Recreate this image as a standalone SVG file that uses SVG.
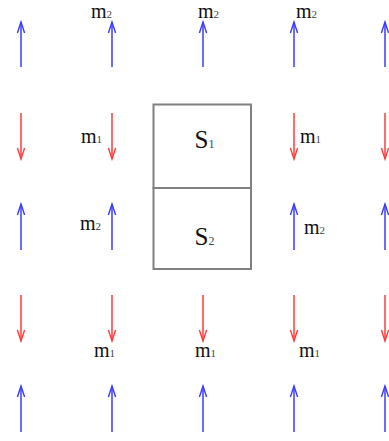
<svg xmlns="http://www.w3.org/2000/svg" width="389" height="441" viewBox="0 0 389 441">
<style>
.up{stroke:#3b3bff;stroke-width:1.5;fill:none}
.dn{stroke:#ff3b3b;stroke-width:1.5;fill:none}
.cell{fill:#fff;stroke:#808080;stroke-width:2}
.m{font-family:"Liberation Serif","Times New Roman",serif;font-size:20px;fill:#111}
.sub{font-size:11px;fill:#444}
.s{font-family:"Liberation Serif","Times New Roman",serif;font-size:25px;fill:#111}
.ssub{font-size:12px;fill:#444}
</style>
<defs>
<marker id="hb" viewBox="-12 -5 14 10" refX="0" refY="0" markerWidth="14" markerHeight="10" markerUnits="userSpaceOnUse" orient="auto"><path d="M-11,-3.6 L0,0 L-11,3.6" fill="none" stroke="#3b3bff" stroke-width="1.4"/></marker>
<marker id="hr" viewBox="-12 -5 14 10" refX="0" refY="0" markerWidth="14" markerHeight="10" markerUnits="userSpaceOnUse" orient="auto"><path d="M-11,-3.6 L0,0 L-11,3.6" fill="none" stroke="#ff3b3b" stroke-width="1.4"/></marker>
</defs>
<rect width="389" height="441" fill="#fff"/>
<g id="arrows">
<g id="row1">
<line class="up" x1="21" y1="67" x2="21" y2="22" marker-end="url(#hb)"/>
<line class="up" x1="112" y1="67" x2="112" y2="22" marker-end="url(#hb)"/>
<line class="up" x1="203" y1="67" x2="203" y2="22" marker-end="url(#hb)"/>
<line class="up" x1="294" y1="67" x2="294" y2="22" marker-end="url(#hb)"/>
<line class="up" x1="385" y1="67" x2="385" y2="22" marker-end="url(#hb)"/>
</g>
<g id="row2">
<line class="dn" x1="21" y1="113" x2="21" y2="159" marker-end="url(#hr)"/>
<line class="dn" x1="112" y1="113" x2="112" y2="159" marker-end="url(#hr)"/>
<line class="dn" x1="294" y1="113" x2="294" y2="159" marker-end="url(#hr)"/>
<line class="dn" x1="385" y1="113" x2="385" y2="159" marker-end="url(#hr)"/>
</g>
<g id="row3">
<line class="up" x1="21" y1="250" x2="21" y2="204" marker-end="url(#hb)"/>
<line class="up" x1="112" y1="250" x2="112" y2="204" marker-end="url(#hb)"/>
<line class="up" x1="294" y1="250" x2="294" y2="204" marker-end="url(#hb)"/>
<line class="up" x1="385" y1="250" x2="385" y2="204" marker-end="url(#hb)"/>
</g>
<g id="row4">
<line class="dn" x1="21" y1="295" x2="21" y2="341" marker-end="url(#hr)"/>
<line class="dn" x1="112" y1="295" x2="112" y2="341" marker-end="url(#hr)"/>
<line class="dn" x1="203" y1="295" x2="203" y2="341" marker-end="url(#hr)"/>
<line class="dn" x1="294" y1="295" x2="294" y2="341" marker-end="url(#hr)"/>
<line class="dn" x1="385" y1="295" x2="385" y2="341" marker-end="url(#hr)"/>
</g>
<g id="row5">
<line class="up" x1="21" y1="432" x2="21" y2="386" marker-end="url(#hb)"/>
<line class="up" x1="112" y1="432" x2="112" y2="386" marker-end="url(#hb)"/>
<line class="up" x1="203" y1="432" x2="203" y2="386" marker-end="url(#hb)"/>
<line class="up" x1="294" y1="432" x2="294" y2="386" marker-end="url(#hb)"/>
<line class="up" x1="385" y1="432" x2="385" y2="386" marker-end="url(#hb)"/>
</g>
</g>
<g id="S1">
<rect class="cell" x="153.5" y="104.5" width="97.5" height="83.5"/>
<text class="s" x="194.5" y="148">S<tspan class="ssub">1</tspan></text>
</g>
<g id="S2">
<rect class="cell" x="153.5" y="188" width="97.5" height="81"/>
<text class="s" x="194.5" y="245">S<tspan class="ssub">2</tspan></text>
</g>
<g id="labels">
<text class="m" x="91" y="18">m<tspan class="sub">2</tspan></text>
<text class="m" x="198" y="18">m<tspan class="sub">2</tspan></text>
<text class="m" x="296" y="18">m<tspan class="sub">2</tspan></text>
<text class="m" x="81" y="143">m<tspan class="sub">1</tspan></text>
<text class="m" x="300" y="143">m<tspan class="sub">1</tspan></text>
<text class="m" x="80" y="230">m<tspan class="sub">2</tspan></text>
<text class="m" x="304" y="234">m<tspan class="sub">2</tspan></text>
<text class="m" x="94" y="357">m<tspan class="sub">1</tspan></text>
<text class="m" x="195" y="357">m<tspan class="sub">1</tspan></text>
<text class="m" x="299" y="357">m<tspan class="sub">1</tspan></text>
</g>
</svg>
